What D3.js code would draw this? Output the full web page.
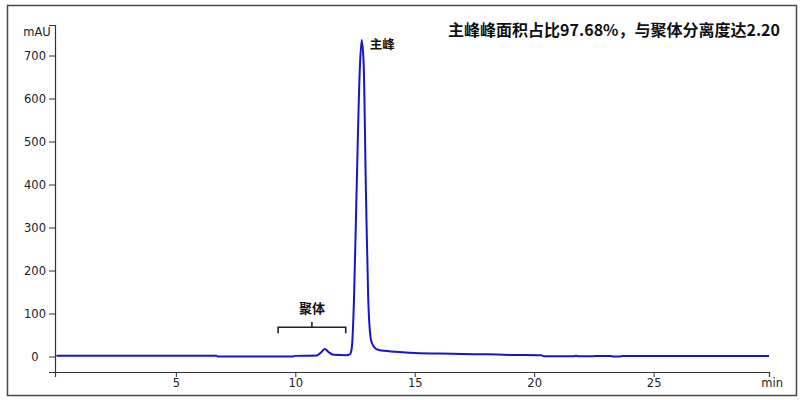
<!DOCTYPE html>
<html>
<head>
<meta charset="utf-8">
<script src="https://cdn.jsdelivr.net/npm/d3@7"></script>
<style>
  html, body { margin: 0; padding: 0; background: #fff; }
  svg { display: block; }
</style>
</head>
<body>
<svg id="chart" width="800" height="400"></svg>
<script>
// ---- Data (retention time in min, absorbance in mAU) ----
const times = [0, 6.7, 6.75, 9.9, 9.95, 10.9, 11.05, 11.23, 11.4, 11.6, 12.14, 12.28, 12.35, 12.39, 12.46, 12.56, 12.71, 12.78, 12.86, 12.96, 13.05, 13.17, 13.3, 13.5, 14.2, 15.2, 16, 17, 18, 19, 20.3, 20.4, 21.65, 21.75, 21.85, 22.45, 22.55, 23.2, 23.3, 23.6, 23.7, 29.83];
const absorbance = [2, 2, 0, 0, 1.5, 2.5, 8, 17.5, 10, 4, 3, 5, 15, 38, 139, 372, 682, 736, 682, 372, 139, 38, 22, 15, 11, 7.5, 7, 6, 5, 3.8, 3, 0.5, 0.5, 1.6, 0.5, 0.5, 1.3, 1.3, 0, 0, 1.5, 1.5];

const yMajorTicks = [0, 100, 200, 300, 400, 500, 600, 700];
const xMajorTicks = [5, 10, 15, 20, 25];
const yUnit = "mAU";
const xUnit = "min";

const title = "主峰峰面积占比97.68%，与聚体分离度达2.20";
const mainPeakLabel = "主峰";
const mainPeakAt = [12.78, 736];
const aggLabel = "聚体";
const aggRange = [9.28, 12.11];
const aggBracketLevels = [54, 68, 80];

// ---- Layout ----
const svg = d3.select("#chart");
const x = d3.scaleLinear().domain([-0.06, 29.83]).range([55, 769]);
const y = d3.scaleLinear().domain([-36, 771]).range([372, 25]);

// outer frame
svg.append("rect")
  .attr("x", 7.5).attr("y", 5.5).attr("width", 789).attr("height", 390)
  .attr("fill", "none").attr("stroke", "#4a4a4a").attr("stroke-width", 1.5);

const font = "'DejaVu Sans', Verdana, sans-serif";

// Y axis
const yMinor = d3.range(-20, 771, 20).filter(v => v % 100 !== 0);
const yAxisMinor = d3.axisLeft(y).tickValues(yMinor).tickSize(3).tickFormat("");
const yAxis = d3.axisLeft(y).tickValues(yMajorTicks).tickSize(6).tickPadding(14).tickFormat(d3.format("d"));
const gy = svg.append("g").attr("transform", `translate(${x.range()[0]},0)`);
gy.call(yAxisMinor);
gy.call(yAxis);
gy.selectAll(".tick text").attr("text-anchor", "middle");

// X axis
const xMinor = d3.range(1, 30, 1).filter(v => v % 5 !== 0);
const xAxisMinor = d3.axisBottom(x).tickValues(xMinor).tickSize(3).tickFormat("");
const xAxis = d3.axisBottom(x).tickValues(xMajorTicks).tickSize(5).tickPadding(2).tickFormat(d3.format("d"));
const gx = svg.append("g").attr("transform", `translate(0,${y.range()[0]})`);
gx.call(xAxisMinor);
gx.call(xAxis);

[gx, gy].forEach(g => {
  g.selectAll(".domain").attr("stroke", "#333").attr("stroke-width", 1.2);
  g.selectAll(".tick line").attr("stroke", "#333");
  g.selectAll("text").attr("font-family", font).attr("font-size", 11.5).attr("fill", "#222");
});

// units
svg.append("text").attr("x", 37).attr("y", 36).attr("text-anchor", "middle")
  .attr("font-family", font).attr("font-size", 11.5).attr("fill", "#222").text(yUnit);
svg.append("text").attr("x", 783).attr("y", 387).attr("text-anchor", "end")
  .attr("font-family", font).attr("font-size", 11.5).attr("fill", "#222").text(xUnit);

// Trace
const pts = times.map((t, i) => [t, absorbance[i]]);
const line = d3.line().x(d => x(d[0])).y(d => y(d[1])).curve(d3.curveMonotoneX);
svg.append("path").datum(pts)
  .attr("d", line).attr("fill", "none")
  .attr("stroke", "#1616c8").attr("stroke-width", 2).attr("stroke-linejoin", "round");

// Annotations
const cjk = "'Noto Sans CJK SC', 'Noto Sans', sans-serif";
svg.append("text").attr("x", 780).attr("y", 36).attr("text-anchor", "end")
  .attr("font-family", cjk).attr("font-size", 16).attr("font-weight", "bold").attr("fill", "#111")
  .text(title);

svg.append("text").attr("x", x(mainPeakAt[0]) + 8).attr("y", y(mainPeakAt[1]) + 9)
  .attr("font-family", cjk).attr("font-size", 12.5).attr("font-weight", "bold").attr("fill", "#111")
  .text(mainPeakLabel);

const bx0 = x(aggRange[0]), bx1 = x(aggRange[1]), bxm = (bx0 + bx1) / 2;
const by0 = y(aggBracketLevels[0]), by1 = y(aggBracketLevels[1]), by2 = y(aggBracketLevels[2]);
svg.append("path")
  .attr("d", `M${bx0},${by0} L${bx0},${by1} L${bx1},${by1} L${bx1},${by0} M${bxm},${by1} L${bxm},${by2}`)
  .attr("fill", "none").attr("stroke", "#222").attr("stroke-width", 1.6);
svg.append("text").attr("x", bxm).attr("y", by2 - 9).attr("text-anchor", "middle")
  .attr("font-family", cjk).attr("font-size", 13).attr("font-weight", "bold").attr("fill", "#111")
  .text(aggLabel);
</script>
</body>
</html>
